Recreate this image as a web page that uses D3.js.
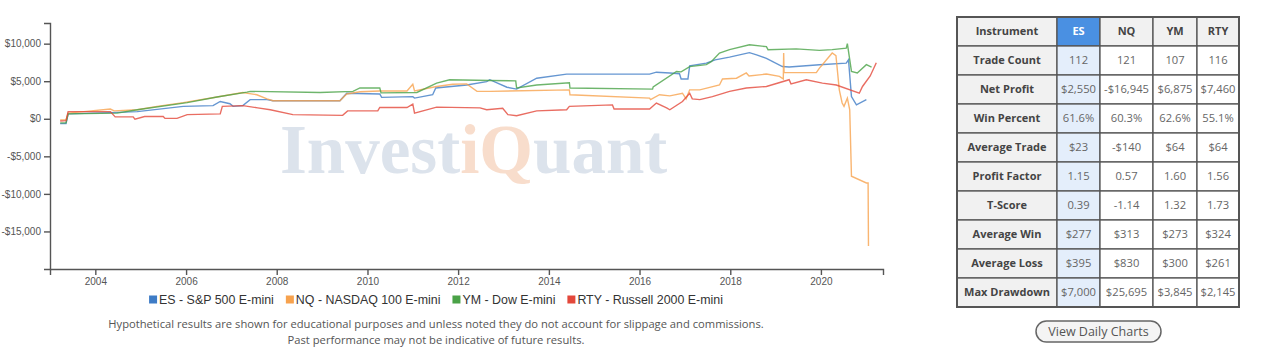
<!DOCTYPE html>
<html>
<head>
<meta charset="utf-8">
<script src="https://cdn.jsdelivr.net/npm/d3@7"></script>
<style>
  body { margin: 0; background: #fff; }
  svg { display: block; }
</style>
</head>
<body>
<div id="chart"></div>
<script>
const seriesNames = ["ES - S&P 500 E-mini", "NQ - NASDAQ 100 E-mini", "YM - Dow E-mini", "RTY - Russell 2000 E-mini"];
const seriesColors = ["#3e7cc6", "#f7a24e", "#4aa247", "#e3483b"];

// cumulative profit
const esPoints = [
  ["2003-03-24", -650], ["2003-05-10", -650], ["2003-05-27", 650], ["2004-06-25", 850], ["2004-12-04", 950],
  ["2005-12-09", 1650], ["2006-08-06", 1750], ["2006-10-03", 2300], ["2006-12-20", 2000], ["2007-01-15", 1650],
  ["2007-04-03", 1750], ["2007-06-01", 2550], ["2007-10-15", 2550], ["2007-12-01", 2400], ["2009-05-24", 2400],
  ["2009-07-18", 3400], ["2010-04-10", 3300], ["2010-04-25", 2850], ["2011-01-01", 2950], ["2011-01-15", 2750],
  ["2011-06-10", 3200], ["2011-07-05", 4100], ["2012-03-10", 4500], ["2012-08-18", 4950], ["2012-09-12", 5200],
  ["2013-01-28", 4200], ["2013-04-16", 3950], ["2013-09-25", 5400], ["2014-05-24", 5950], ["2016-03-22", 5950],
  ["2016-05-16", 6200], ["2016-09-01", 6100], ["2016-11-18", 6000], ["2016-12-01", 5300], ["2017-01-25", 5300],
  ["2017-02-08", 7050], ["2017-06-22", 7400], ["2017-09-01", 7850], ["2017-12-26", 8200], ["2018-06-04", 8800],
  ["2018-08-01", 8500], ["2018-10-19", 8050], ["2019-02-25", 6950], ["2019-04-20", 6900], ["2019-12-20", 7200],
  ["2020-07-23", 7400], ["2020-08-10", 7850], ["2020-09-03", 2950], ["2020-10-13", 1850], ["2021-01-01", 2550]
];
const nqPoints = [
  ["2003-03-24", -150], ["2003-05-10", -150], ["2003-05-27", 750], ["2003-10-01", 950], ["2004-05-01", 1300],
  ["2004-06-01", 1050], ["2004-12-04", 1200], ["2005-05-12", 1650], ["2005-12-09", 2150], ["2006-09-07", 2900],
  ["2007-04-03", 3500], ["2007-07-25", 3200], ["2007-10-15", 2650], ["2007-12-01", 2400], ["2009-05-24", 2400],
  ["2009-07-18", 3300], ["2009-11-01", 3600], ["2010-04-10", 3700], ["2010-11-15", 3700], ["2011-01-01", 4600],
  ["2011-01-15", 3700], ["2011-07-12", 4300], ["2011-11-18", 4600], ["2012-03-10", 4650], ["2012-06-01", 3650],
  ["2012-09-12", 3650], ["2014-06-15", 3850], ["2014-06-20", 3200], ["2016-03-22", 2750], ["2016-03-30", 2550],
  ["2016-06-10", 3200], ["2016-09-01", 3050], ["2016-12-12", 3400], ["2017-01-10", 2650], ["2017-02-08", 3850],
  ["2017-05-01", 3850], ["2017-10-06", 4500], ["2017-10-30", 5300], ["2018-02-20", 5400], ["2018-05-10", 6100],
  ["2018-06-01", 5700], ["2018-10-19", 5950], ["2019-02-01", 5650], ["2019-03-04", 5300], ["2019-03-07", 8750],
  ["2019-03-10", 6150], ["2019-11-25", 6150], ["2019-12-20", 6750], ["2020-01-13", 7200], ["2020-02-15", 7850],
  ["2020-04-01", 8750], ["2020-05-01", 8400], ["2020-05-28", 3850], ["2020-06-20", 2100], ["2020-07-05", 1650],
  ["2020-08-01", 2750], ["2020-08-20", 1200], ["2020-09-03", -7650], ["2021-01-01", -8550], ["2021-01-15", -8550],
  ["2021-01-18", -16945]
];
const ymPoints = [
  ["2003-03-24", -550], ["2003-05-10", -550], ["2003-05-27", 650], ["2004-06-25", 750], ["2004-12-04", 1200],
  ["2006-01-10", 2150], ["2006-09-07", 2900], ["2007-05-06", 3550], ["2007-06-01", 3650], ["2008-12-15", 3500],
  ["2009-09-06", 3650], ["2009-11-01", 4100], ["2010-04-10", 4100], ["2010-04-20", 3450], ["2011-02-03", 3500],
  ["2011-07-12", 4750], ["2011-10-25", 5200], ["2012-09-12", 5100], ["2013-04-09", 5050], ["2013-04-16", 4100],
  ["2013-09-25", 4500], ["2014-06-15", 4800], ["2014-06-20", 4100], ["2016-04-15", 3950], ["2016-04-20", 4250],
  ["2016-10-25", 6300], ["2016-12-01", 6250], ["2017-02-08", 6950], ["2017-06-22", 7200], ["2017-08-01", 7600],
  ["2017-10-06", 8750], ["2017-12-26", 9200], ["2018-06-04", 9850], ["2018-10-19", 9600], ["2018-11-01", 9200],
  ["2019-06-15", 9300], ["2019-12-20", 9100], ["2020-04-01", 9200], ["2020-07-23", 9400], ["2020-08-01", 10000],
  ["2020-09-03", 6300], ["2020-10-20", 6100], ["2021-01-01", 7200], ["2021-02-12", 6875]
];
const rtyPoints = [
  ["2003-03-24", -300], ["2003-05-10", -250], ["2003-05-27", 950], ["2004-05-01", 950], ["2004-06-09", 250],
  ["2004-11-01", 250], ["2004-11-15", -50], ["2005-02-01", 300], ["2005-07-01", 300], ["2005-07-15", 50],
  ["2005-10-20", 50], ["2006-01-10", 550], ["2006-10-03", 650], ["2006-10-20", 1650], ["2007-04-03", 1750],
  ["2007-08-01", 1450], ["2007-11-10", 1200], ["2008-05-10", 550], ["2009-06-15", 450], ["2009-07-25", 1050],
  ["2010-03-25", 1050], ["2010-04-10", 1500], ["2010-11-15", 1500], ["2011-01-01", 1950], ["2011-01-15", 750],
  ["2011-07-12", 1550], ["2012-06-25", 1450], ["2012-08-18", 1200], ["2012-12-25", 1400], ["2013-02-05", 550],
  ["2013-04-16", 400], ["2013-09-25", 1050], ["2014-05-24", 1200], ["2014-06-15", 1650], ["2015-05-28", 1850],
  ["2015-06-10", 1300], ["2016-03-22", 1300], ["2016-05-16", 2100], ["2016-08-06", 1450], ["2016-09-01", 1200],
  ["2016-12-12", 2300], ["2017-02-08", 3400], ["2017-03-01", 2650], ["2017-05-01", 2550], ["2017-08-10", 2950],
  ["2017-12-26", 3650], ["2018-05-10", 4100], ["2018-10-19", 4300], ["2019-04-20", 5200], ["2019-05-05", 4650],
  ["2019-09-05", 5200], ["2020-01-13", 4750], ["2020-05-04", 4500], ["2020-11-05", 3400], ["2020-12-01", 4300],
  ["2021-02-01", 5700], ["2021-03-22", 7460]
];

const yTicks = [-15000, -10000, -5000, 0, 5000, 10000];

const tableColumns = ["Instrument", "ES", "NQ", "YM", "RTY"];
const tableRows = [
  ["Trade Count", "112", "121", "107", "116"],
  ["Net Profit", "$2,550", "-$16,945", "$6,875", "$7,460"],
  ["Win Percent", "61.6%", "60.3%", "62.6%", "55.1%"],
  ["Average Trade", "$23", "-$140", "$64", "$64"],
  ["Profit Factor", "1.15", "0.57", "1.60", "1.56"],
  ["T-Score", "0.39", "-1.14", "1.32", "1.73"],
  ["Average Win", "$277", "$313", "$273", "$324"],
  ["Average Loss", "$395", "$830", "$300", "$261"],
  ["Max Drawdown", "$7,000", "$25,695", "$3,845", "$2,145"]
];

const footnote = [
  "Hypothetical results are shown for educational purposes and unless noted they do not account for slippage and commissions.",
  "Past performance may not be indicative of future results."
];

const width = 1272, height = 353;
const plot = { left: 50, right: 883, top: 23, bottom: 269 };
const parseDate = d3.timeParse("%Y-%m-%d");

const series = [esPoints, nqPoints, ymPoints, rtyPoints].map((pts, i) => ({
  name: seriesNames[i],
  color: seriesColors[i],
  values: pts.map(([d, v]) => ({ date: parseDate(d), value: v }))
}));

const svg = d3.select("#chart").append("svg")
  .attr("width", width)
  .attr("height", height);

const x = d3.scaleTime()
  .domain([new Date(2003, 0, 1), new Date(2021, 4, 15)])
  .range([plot.left, plot.right]);
const y = d3.scaleLinear()
  .domain([-20000, 12750])
  .range([plot.bottom, plot.top]);

// watermark
svg.append("text")
  .attr("x", 280)
  .attr("y", 173)
  .attr("font-family", "'Liberation Serif', serif")
  .attr("font-weight", "bold")
  .attr("font-size", 69)
  .attr("fill", "#dce3ec")
  .call(t => {
    t.append("tspan").text("Invest");
    t.append("tspan").attr("fill", "#f8ddcc").text("iQ");
    t.append("tspan").text("uant");
  });

const money = d3.format(",");
const yAxis = d3.axisLeft(y)
  .tickValues(yTicks)
  .tickFormat(v => (v < 0 ? "-$" : "$") + money(Math.abs(v)));
const xAxis = d3.axisBottom(x)
  .ticks(d3.timeYear.every(2))
  .tickFormat(d3.timeFormat("%Y"));

function styleAxis(g) {
  g.selectAll("path, line").attr("stroke", "#555").attr("stroke-width", 1.4);
  g.selectAll("text")
    .attr("fill", "#555")
    .attr("font-family", "'Liberation Sans', Arial, sans-serif")
    .attr("font-size", 10);
}

svg.append("g")
  .attr("transform", `translate(${plot.left},0)`)
  .call(yAxis)
  .call(styleAxis);
svg.append("g")
  .attr("transform", `translate(0,${plot.bottom})`)
  .call(xAxis)
  .call(styleAxis);

const line = d3.line()
  .x(d => x(d.date))
  .y(d => y(d.value));

svg.append("g")
  .selectAll("path")
  .data(series)
  .join("path")
  .attr("d", d => line(d.values))
  .attr("fill", "none")
  .attr("stroke", d => d.color)
  .attr("stroke-width", 1.4)
  .attr("stroke-opacity", 0.8);

// legend
const legend = svg.append("g")
  .attr("font-family", "'Liberation Sans', Arial, sans-serif")
  .attr("font-size", 12.4)
  .attr("fill", "#333");
let lx = 0;
series.forEach(s => {
  const item = legend.append("g").attr("transform", `translate(${lx},0)`);
  item.append("rect")
    .attr("x", 0).attr("y", -4.5)
    .attr("width", 8).attr("height", 8)
    .attr("fill", s.color);
  const t = item.append("text")
    .attr("x", 10).attr("dy", "0.35em")
    .text(s.name);
  lx += 10 + t.node().getComputedTextLength() + 12;
});
legend.attr("transform", `translate(${436 - (lx - 12) / 2},300)`);

svg.append("g")
  .selectAll("text")
  .data(footnote)
  .join("text")
  .attr("x", 436)
  .attr("y", (d, i) => 324 + i * 16)
  .attr("dy", "0.35em")
  .attr("text-anchor", "middle")
  .attr("font-family", "'Open Sans', sans-serif")
  .attr("font-size", 11.2)
  .attr("fill", "#555")
  .text(d => d);

// stats table
const colX = [957, 1057, 1100, 1153, 1197, 1239];
const rowH = 29, tableTop = 17;
const table = svg.append("g")
  .attr("font-family", "'Open Sans', sans-serif");
const allRows = [tableColumns].concat(tableRows);

allRows.forEach((row, r) => {
  row.forEach((cell, c) => {
    const isHead = r === 0 || c === 0;
    let fill = isHead ? "#f1f1f1" : "#fff";
    if (c === 1) fill = r === 0 ? "#4a90e2" : "#e4eefb";
    table.append("rect")
      .attr("x", colX[c]).attr("y", tableTop + r * rowH)
      .attr("width", colX[c + 1] - colX[c]).attr("height", rowH)
      .attr("fill", fill)
      .attr("stroke", "#555").attr("stroke-width", 1.3);
    table.append("text")
      .attr("x", (colX[c] + colX[c + 1]) / 2)
      .attr("y", tableTop + r * rowH + rowH / 2)
      .attr("dy", "0.35em")
      .attr("text-anchor", "middle")
      .attr("font-size", isHead ? 11 : 11.2)
      .attr("font-weight", isHead ? "bold" : "normal")
      .attr("fill", r === 0 && c === 1 ? "#fff" : isHead ? "#444" : "#666")
      .text(cell);
  });
});
table.append("rect")
  .attr("x", colX[0]).attr("y", tableTop)
  .attr("width", colX[5] - colX[0]).attr("height", rowH * allRows.length)
  .attr("fill", "none")
  .attr("stroke", "#555").attr("stroke-width", 2);

// button
const btn = svg.append("g").attr("transform", "translate(1036,321)");
btn.append("rect")
  .attr("width", 125).attr("height", 21).attr("rx", 10.5)
  .attr("fill", "#f4f4f4")
  .attr("stroke", "#666").attr("stroke-width", 1.5);
btn.append("text")
  .attr("x", 62.5).attr("y", 10.5).attr("dy", "0.35em")
  .attr("text-anchor", "middle")
  .attr("font-family", "'Open Sans', sans-serif")
  .attr("font-size", 12.5)
  .attr("fill", "#555")
  .text("View Daily Charts");
</script>
</body>
</html>
